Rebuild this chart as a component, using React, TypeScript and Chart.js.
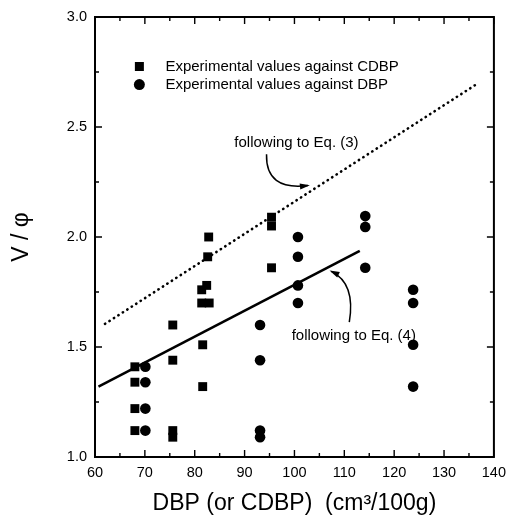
import React, { useEffect, useRef } from "react";
import { Chart, registerables } from "chart.js";

Chart.register(...registerables);

// ---- data ----
const cdbpX = [68, 68, 68, 68, 75.6, 75.6, 75.6, 75.6, 81.4, 81.4, 81.6, 81.6, 82.8, 82.6, 82.4, 82.9, 95.4, 95.4, 95.4];
const cdbpY = [1.41, 1.34, 1.22, 1.12, 1.60, 1.44, 1.12, 1.09, 1.76, 1.70, 1.51, 1.32, 2.00, 1.91, 1.78, 1.70, 2.09, 2.05, 1.86];
const dbpX = [70.1, 70.1, 70.1, 70.1, 93.1, 93.1, 93.1, 93.1, 100.7, 100.7, 100.7, 100.7, 114.2, 114.2, 114.2, 123.8, 123.8, 123.8, 123.8];
const dbpY = [1.41, 1.34, 1.22, 1.12, 1.60, 1.44, 1.12, 1.09, 2.00, 1.91, 1.78, 1.70, 2.095, 2.046, 1.86, 1.76, 1.70, 1.51, 1.32];
const eq4X = [60.7, 113.1];
const eq4Y = [1.32, 1.937];
const eq3X = [62, 136.2];
const eq3Y = [1.605, 2.69];

const xTicks = [60, 70, 80, 90, 100, 110, 120, 130, 140];
const yTicks = [1.0, 1.5, 2.0, 2.5, 3.0];

const legendLabels = ["Experimental values against CDBP", "Experimental values against DBP"];
const legendPos = [
  [68.9, 2.775],
  [68.9, 2.693],
];
const annoTexts = ["following to Eq. (3)", "following to Eq. (4)"];
const annoPos = [
  [100.4, 2.43],
  [111.9, 1.55],
];
// arrows: start, control, end (data units)
const arrow3 = [
  [94.4, 2.376],
  [94.2, 2.21],
  [102.7, 2.234],
];
const arrow4 = [
  [111.0, 1.613],
  [112.3, 1.79],
  [107.4, 1.844],
];

const FONT = "'Liberation Sans', Arial, Helvetica, sans-serif";

const toPts = (xs: number[], ys: number[]) => xs.map((x, i) => ({ x, y: ys[i] }));

const framePlugin = {
  id: "frameTicks",
  afterDatasetsDraw(chart: any) {
    const { ctx, chartArea, scales } = chart;
    const { left, right, top, bottom } = chartArea;
    const xs = scales.x;
    const ys = scales.y;
    ctx.save();
    ctx.strokeStyle = "#000";
    ctx.lineWidth = 2;
    ctx.strokeRect(left, top, right - left, bottom - top);
    ctx.lineWidth = 1.4;
    ctx.beginPath();
    for (let v = xTicks[0]; v <= xTicks[xTicks.length - 1] + 0.001; v += 5) {
      const px = xs.getPixelForValue(v);
      const major = xTicks.some((t) => Math.abs(t - v) < 0.01);
      const len = major ? 7 : 4;
      ctx.moveTo(px, bottom);
      ctx.lineTo(px, bottom - len);
      ctx.moveTo(px, top);
      ctx.lineTo(px, top + len);
    }
    for (let v = yTicks[0]; v <= yTicks[yTicks.length - 1] + 0.001; v += 0.25) {
      const py = ys.getPixelForValue(v);
      const major = yTicks.some((t) => Math.abs(t - v) < 0.01);
      const len = major ? 7 : 4;
      ctx.moveTo(left, py);
      ctx.lineTo(left + len, py);
      ctx.moveTo(right, py);
      ctx.lineTo(right - len, py);
    }
    ctx.stroke();

    // legend
    ctx.fillStyle = "#000";
    ctx.font = `15px ${FONT}`;
    ctx.textBaseline = "middle";
    ctx.textAlign = "left";
    legendLabels.forEach((lab, i) => {
      const px = xs.getPixelForValue(legendPos[i][0]);
      const py = ys.getPixelForValue(legendPos[i][1]);
      if (i === 0) {
        ctx.fillRect(px - 4.5, py - 4.5, 9, 9);
      } else {
        ctx.beginPath();
        ctx.arc(px, py, 5.5, 0, Math.PI * 2);
        ctx.fill();
      }
      ctx.fillText(lab, px + 26, py);
    });

    // annotations
    ctx.textAlign = "center";
    annoTexts.forEach((t, i) => {
      ctx.fillText(t, xs.getPixelForValue(annoPos[i][0]), ys.getPixelForValue(annoPos[i][1]));
    });
    const drawArrow = (a: number[][]) => {
      const p = a.map(([dx, dy]) => [xs.getPixelForValue(dx), ys.getPixelForValue(dy)]);
      ctx.lineWidth = 1.5;
      ctx.beginPath();
      ctx.moveTo(p[0][0], p[0][1]);
      ctx.quadraticCurveTo(p[1][0], p[1][1], p[2][0], p[2][1]);
      ctx.stroke();
      const ang = Math.atan2(p[2][1] - p[1][1], p[2][0] - p[1][0]);
      const L = 8;
      const W = 3;
      ctx.beginPath();
      ctx.moveTo(p[2][0] + Math.cos(ang) * 2, p[2][1] + Math.sin(ang) * 2);
      ctx.lineTo(p[2][0] - Math.cos(ang) * L + Math.sin(ang) * W, p[2][1] - Math.sin(ang) * L - Math.cos(ang) * W);
      ctx.lineTo(p[2][0] - Math.cos(ang) * L - Math.sin(ang) * W, p[2][1] - Math.sin(ang) * L + Math.cos(ang) * W);
      ctx.closePath();
      ctx.fill();
    };
    drawArrow(arrow3);
    drawArrow(arrow4);
    ctx.restore();
  },
};

export default function App() {
  const ref = useRef<HTMLCanvasElement | null>(null);
  useEffect(() => {
    if (!ref.current) return;
    Chart.defaults.font.family = FONT;
    Chart.defaults.color = "#000";
    const chart = new Chart(ref.current, {
      type: "scatter",
      data: {
        datasets: [
          {
            label: "CDBP",
            data: toPts(cdbpX, cdbpY),
            pointStyle: "rect",
            pointRadius: 6.3,
            backgroundColor: "#000",
            borderColor: "#000",
            borderWidth: 0,
          },
          {
            label: "DBP",
            data: toPts(dbpX, dbpY),
            pointStyle: "circle",
            pointRadius: 5.3,
            backgroundColor: "#000",
            borderColor: "#000",
            borderWidth: 0,
          },
          {
            label: "Eq4",
            data: toPts(eq4X, eq4Y),
            showLine: true,
            pointRadius: 0,
            borderColor: "#000",
            borderWidth: 2.6,
          } as any,
          {
            label: "Eq3",
            data: toPts(eq3X, eq3Y),
            showLine: true,
            pointRadius: 0,
            borderColor: "#000",
            borderWidth: 2.6,
            borderDash: [0.3, 5],
            borderCapStyle: "round",
          } as any,
        ],
      },
      options: {
        animation: false,
        responsive: true,
        maintainAspectRatio: false,
        layout: { padding: { top: 17, right: 16, left: 0, bottom: 0 } },
        plugins: { legend: { display: false }, tooltip: { enabled: false } },
        scales: {
          x: {
            type: "linear",
            min: 60,
            max: 140,
            afterBuildTicks: (s: any) => {
              s.ticks = xTicks.map((v) => ({ value: v }));
            },
            afterFit: (s: any) => {
              s.height = 63;
            },
            grid: { display: false, drawTicks: false },
            border: { display: false },
            ticks: { font: { size: 14.5 }, padding: 7, color: "#000", maxRotation: 0 },
            title: {
              display: true,
              text: "DBP (or CDBP)  (cm³/100g)",
              font: { size: 23 },
              color: "#000",
              padding: { top: 0, bottom: 3 },
            },
          },
          y: {
            type: "linear",
            min: 1,
            max: 3,
            afterBuildTicks: (s: any) => {
              s.ticks = yTicks.map((v) => ({ value: v }));
            },
            afterFit: (s: any) => {
              s.width = 95;
            },
            grid: { display: false, drawTicks: false },
            border: { display: false },
            ticks: {
              font: { size: 14.5 },
              padding: 8,
              color: "#000",
              callback: (v: any) => Number(v).toFixed(1),
            },
            title: {
              display: true,
              text: "V / φ",
              font: { size: 23 },
              color: "#000",
              padding: { top: 8, bottom: 0 },
            },
          },
        },
      },
      plugins: [framePlugin],
    });
    return () => chart.destroy();
  }, []);
  return (
    <div style={{ position: "fixed", left: 0, top: 0, width: 513, height: 520, background: "#fff" }}>
      <canvas ref={ref} />
    </div>
  );
}
